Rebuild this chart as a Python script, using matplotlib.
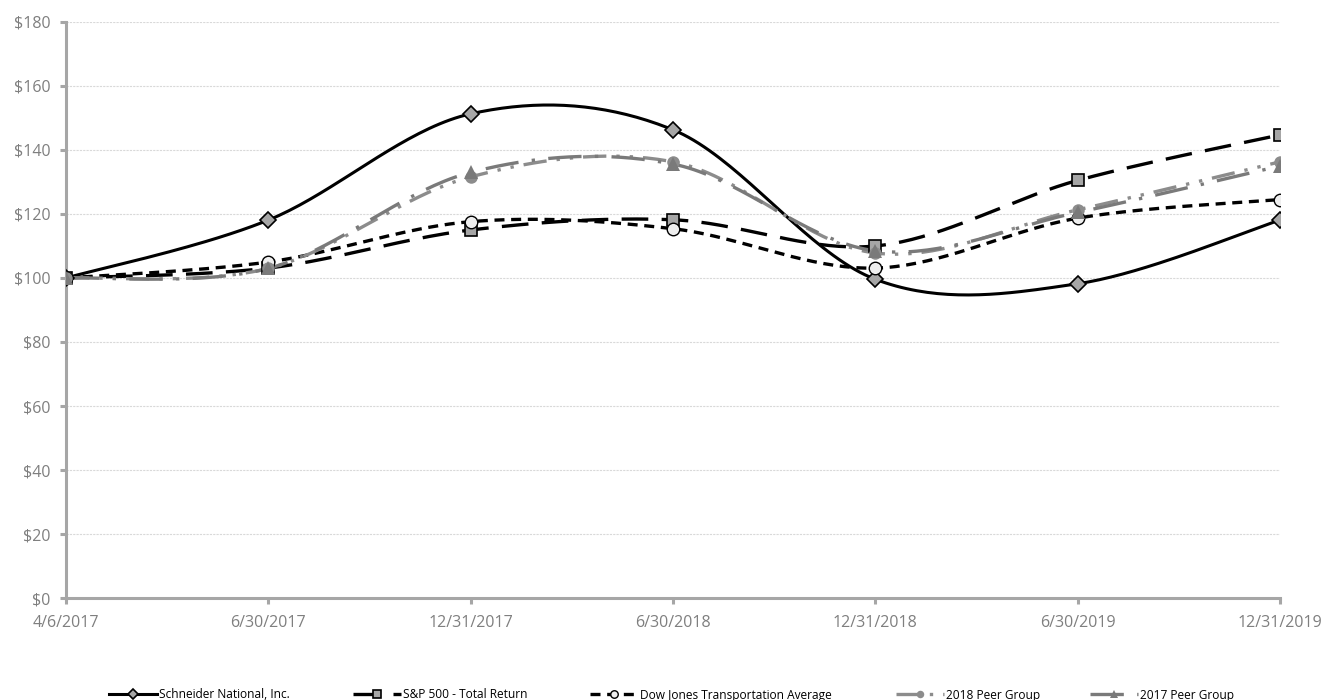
import numpy as np
import matplotlib.pyplot as plt

dates = ['4/6/2017', '6/30/2017', '12/31/2017', '6/30/2018', '12/31/2018', '6/30/2019', '12/31/2019']
schneider = [100, 118.1, 151.3, 146.3, 99.6, 98.2, 118.1]
sp500 = [100, 103.1, 115.0, 118.2, 110.0, 130.5, 144.7]
dow_transport = [100, 105.0, 117.6, 115.4, 103.1, 118.7, 124.5]
peer_2018 = [100, 103.0, 131.6, 136.3, 107.8, 121.3, 136.3]
peer_2017 = [100, 103.0, 133.0, 135.6, 108.5, 120.5, 135.0]
y_ticks = [0, 20, 40, 60, 80, 100, 120, 140, 160, 180]

plt.rcParams['font.family'] = ['Open Sans', 'DejaVu Sans']


def smooth(values, n=40):
    # Excel-style smoothed line: cubic bezier with catmull-rom control points
    y = np.asarray(values, dtype=float)
    x = np.arange(len(y), dtype=float)
    px = np.concatenate([[x[0]], x, [x[-1]]])
    py = np.concatenate([[y[0]], y, [y[-1]]])
    xs, ys = [], []
    t = np.linspace(0, 1, n)
    for i in range(len(y) - 1):
        p0 = np.array([px[i + 1], py[i + 1]])
        p3 = np.array([px[i + 2], py[i + 2]])
        c1 = p0 + (p3 - np.array([px[i], py[i]])) / 6
        c2 = p3 - (np.array([px[i + 3], py[i + 3]]) - p0) / 6
        pts = ((1 - t) ** 3)[:, None] * p0 + (3 * (1 - t) ** 2 * t)[:, None] * c1 \
            + (3 * (1 - t) * t ** 2)[:, None] * c2 + (t ** 3)[:, None] * p3
        xs.append(pts[:, 0])
        ys.append(pts[:, 1])
    return np.concatenate(xs), np.concatenate(ys)


fig = plt.figure(figsize=(13.26, 7.0), dpi=100)
ax = fig.add_axes([0.0498, 0.1457, 0.9155, 0.8229])

series = [
    ('Schneider National, Inc.', schneider, dict(color='black', lw=2.2, ls='-'),
     dict(marker='D', ms=8, mfc='#A6A6A6', mec='black', mew=1.2)),
    ('S&P 500 - Total Return', sp500, dict(color='black', lw=2.4, ls=(0, (8, 4))),
     dict(marker='s', ms=9, mfc='#A6A6A6', mec='black', mew=1.2)),
    ('Dow Jones Transportation Average', dow_transport, dict(color='black', lw=2.4, ls=(0, (3, 2))),
     dict(marker='o', ms=9, mfc='#EEEEEE', mec='black', mew=1.0)),
    ('2018 Peer Group', peer_2018, dict(color='#8C8C8C', lw=2.4, ls=(0, (7, 3, 1, 3, 1, 3))),
     dict(marker='o', ms=9, mfc='#8C8C8C', mec='#8C8C8C', mew=0)),
    ('2017 Peer Group', peer_2017, dict(color='#7A7A7A', lw=2.4, ls=(0, (10, 4, 1, 4))),
     dict(marker='^', ms=10, mfc='#7A7A7A', mec='#7A7A7A', mew=0)),
]

handles = []
for label, vals, lstyle, mstyle in series:
    sx, sy = smooth(vals)
    ax.plot(sx, sy, zorder=3, **lstyle)
    ax.plot(np.arange(len(vals)), vals, ls='none', zorder=4, **mstyle)
    h, = ax.plot([], [], label=label, **lstyle, **{k: (v * 0.6 if k == 'ms' else v) for k, v in mstyle.items()})
    handles.append(h)

ax.set_xlim(0, len(dates) - 1)
ax.set_ylim(0, 180)
ax.set_yticks(y_ticks)
ax.set_yticklabels(['$' + str(v) for v in y_ticks])
ax.set_xticks(np.arange(len(dates)))
ax.set_xticklabels(dates)

ax.grid(axis='y', color='#D9D9D9', lw=0.8, ls=(0, (2, 1)))
ax.set_axisbelow(True)
for s in ['top', 'right']:
    ax.spines[s].set_visible(False)
for s in ['left', 'bottom']:
    ax.spines[s].set_color('#A6A6A6')
    ax.spines[s].set_linewidth(2.2)
ax.tick_params(axis='both', colors='#A6A6A6', length=4, width=2.2, labelsize=11.5,
               labelcolor='#7F7F7F')
ax.tick_params(axis='y', pad=7)
ax.tick_params(axis='x', pad=8)

# legend entries sit in uneven slots along the bottom
legend_x = [109, 353, 590, 896, 1090]
for h, lx in zip(handles, legend_x):
    leg = fig.legend(handles=[h], loc='center left', bbox_to_anchor=(lx / 1326, 1 - 695 / 700),
                     frameon=False, fontsize=8.6, handlelength=4.0, handletextpad=0.2,
                     borderpad=0, borderaxespad=0, numpoints=1)

fig.savefig('out.png', dpi=100)
